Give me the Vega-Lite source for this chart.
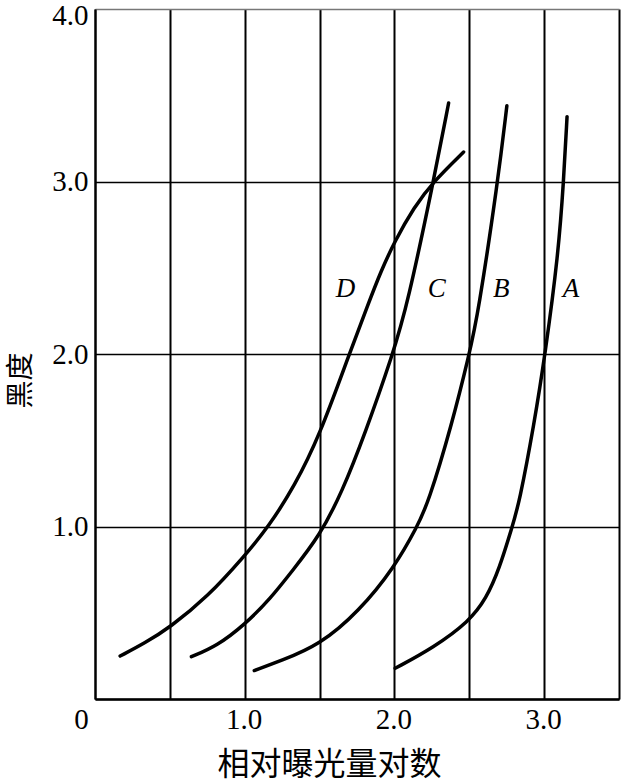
{
  "$schema": "https://vega.github.io/schema/vega-lite/v6.json",
  "width": 524,
  "height": 690,
  "autosize": {"type": "none"},
  "padding": {"left": 95, "top": 9, "right": 2, "bottom": 84},
  "background": "white",
  "config": {"view": {"stroke": null}, "font": "Liberation Serif"},
  "datasets": {
    "curves": [
      {"curve": "D", "x": 0.168, "y": 0.249},
      {"curve": "D", "x": 0.334, "y": 0.325},
      {"curve": "D", "x": 0.5, "y": 0.415},
      {"curve": "D", "x": 0.75, "y": 0.59},
      {"curve": "D", "x": 1.0, "y": 0.83},
      {"curve": "D", "x": 1.16, "y": 1.0},
      {"curve": "D", "x": 1.33, "y": 1.23},
      {"curve": "D", "x": 1.5, "y": 1.526},
      {"curve": "D", "x": 1.698, "y": 2.0},
      {"curve": "D", "x": 1.825, "y": 2.29},
      {"curve": "D", "x": 1.91, "y": 2.48},
      {"curve": "D", "x": 2.0, "y": 2.65},
      {"curve": "D", "x": 2.13, "y": 2.85},
      {"curve": "D", "x": 2.261, "y": 3.0},
      {"curve": "D", "x": 2.462, "y": 3.171},
      {"curve": "C", "x": 0.644, "y": 0.245},
      {"curve": "C", "x": 0.814, "y": 0.307},
      {"curve": "C", "x": 1.0, "y": 0.431},
      {"curve": "C", "x": 1.172, "y": 0.582},
      {"curve": "C", "x": 1.315, "y": 0.74},
      {"curve": "C", "x": 1.5, "y": 0.945},
      {"curve": "C", "x": 1.65, "y": 1.2},
      {"curve": "C", "x": 1.8, "y": 1.53},
      {"curve": "C", "x": 1.99, "y": 2.0},
      {"curve": "C", "x": 2.087, "y": 2.288},
      {"curve": "C", "x": 2.261, "y": 3.0},
      {"curve": "C", "x": 2.362, "y": 3.455},
      {"curve": "B", "x": 1.064, "y": 0.165},
      {"curve": "B", "x": 1.244, "y": 0.222},
      {"curve": "B", "x": 1.5, "y": 0.313},
      {"curve": "B", "x": 1.762, "y": 0.507},
      {"curve": "B", "x": 2.0, "y": 0.763},
      {"curve": "B", "x": 2.152, "y": 1.0},
      {"curve": "B", "x": 2.225, "y": 1.134},
      {"curve": "B", "x": 2.384, "y": 1.593},
      {"curve": "B", "x": 2.5, "y": 2.0},
      {"curve": "B", "x": 2.558, "y": 2.229},
      {"curve": "B", "x": 2.691, "y": 3.0},
      {"curve": "B", "x": 2.751, "y": 3.439},
      {"curve": "A", "x": 2.005, "y": 0.178},
      {"curve": "A", "x": 2.261, "y": 0.298},
      {"curve": "A", "x": 2.5, "y": 0.45},
      {"curve": "A", "x": 2.613, "y": 0.582},
      {"curve": "A", "x": 2.7, "y": 0.753},
      {"curve": "A", "x": 2.787, "y": 1.0},
      {"curve": "A", "x": 2.833, "y": 1.134},
      {"curve": "A", "x": 2.933, "y": 1.593},
      {"curve": "A", "x": 3.007, "y": 2.0},
      {"curve": "A", "x": 3.095, "y": 2.582},
      {"curve": "A", "x": 3.13, "y": 3.0},
      {"curve": "A", "x": 3.153, "y": 3.376}
    ],
    "labels": [
      {"label": "D", "x": 1.674, "y": 2.376},
      {"label": "C", "x": 2.283, "y": 2.376},
      {"label": "B", "x": 2.713, "y": 2.376},
      {"label": "A", "x": 3.18, "y": 2.376}
    ]
  },
  "layer": [
    {
      "data": {"name": "curves"},
      "mark": {"type": "line", "color": "black", "strokeWidth": 3.5, "interpolate": "basis", "strokeCap": "round"},
      "encoding": {
        "x": {
          "field": "x", "type": "quantitative",
          "scale": {"domain": [0, 3.5], "nice": false, "zero": false},
          "axis": {
            "title": "相对曝光量对数",
            "values": [0, 0.5, 1, 1.5, 2, 2.5, 3, 3.5],
            "labelExpr": "datum.value == 0 ? '0' : (datum.value % 1 == 0 ? format(datum.value, '.1f') : '')",
            "ticks": false,
            "tickSize": 0,
            "domainColor": "black",
            "domainWidth": 2.3,
            "grid": true,
            "gridColor": "black",
            "gridWidth": 2,
            "gridOpacity": 1,
            "labelFont": "Liberation Serif",
            "labelFontSize": 29,
            "labelColor": "black",
            "labelBaseline": "middle",
            "labelPadding": 20,
            "labelOffset": {"condition": {"test": "datum.value == 0", "value": -14}, "value": -1},
            "labelFlush": false,
            "labelOverlap": false,
            "titleFont": "Noto Sans CJK SC",
            "titleFontSize": 32,
            "titleFontWeight": "normal",
            "titleColor": "black",
            "titleX": 234,
            "titleY": 65,
            "titleBaseline": "middle",
            "titleAlign": "center"
          }
        },
        "y": {
          "field": "y", "type": "quantitative",
          "scale": {"domain": [0, 4], "nice": false, "zero": false},
          "axis": {
            "title": "黑度",
            "values": [0, 1, 2, 3, 4],
            "labelExpr": "datum.value == 0 ? '' : format(datum.value, '.1f')",
            "labelBaseline": {"condition": {"test": "datum.value == 4", "value": "top"}, "value": "middle"},
            "labelOffset": {"condition": {"test": "datum.value == 4", "value": -8}, "value": 0},
            "ticks": false,
            "tickSize": 0,
            "domainColor": "black",
            "domainWidth": 2,
            "grid": true,
            "gridColor": {"condition": {"test": "datum.value == 4", "value": "#777777"}, "value": "black"},
            "gridWidth": 1.6,
            "gridOpacity": 1,
            "labelFont": "Liberation Serif",
            "labelFontSize": 29,
            "labelColor": "black",
            "labelPadding": 7,
            "labelFlush": false,
            "labelOverlap": false,
            "titleFont": "Noto Sans CJK SC",
            "titleFontSize": 28,
            "titleFontWeight": "normal",
            "titleColor": "black",
            "titleAngle": -90,
            "titleX": -74,
            "titleY": 371,
            "titleBaseline": "middle",
            "titleAlign": "center"
          }
        },
        "detail": {"field": "curve", "type": "nominal"}
      }
    },
    {
      "data": {"name": "labels"},
      "mark": {"type": "text", "font": "Liberation Serif", "fontStyle": "italic", "fontSize": 27, "color": "black", "align": "center", "baseline": "middle"},
      "encoding": {
        "x": {"field": "x", "type": "quantitative"},
        "y": {"field": "y", "type": "quantitative"},
        "text": {"field": "label", "type": "nominal"}
      }
    }
  ]
}
